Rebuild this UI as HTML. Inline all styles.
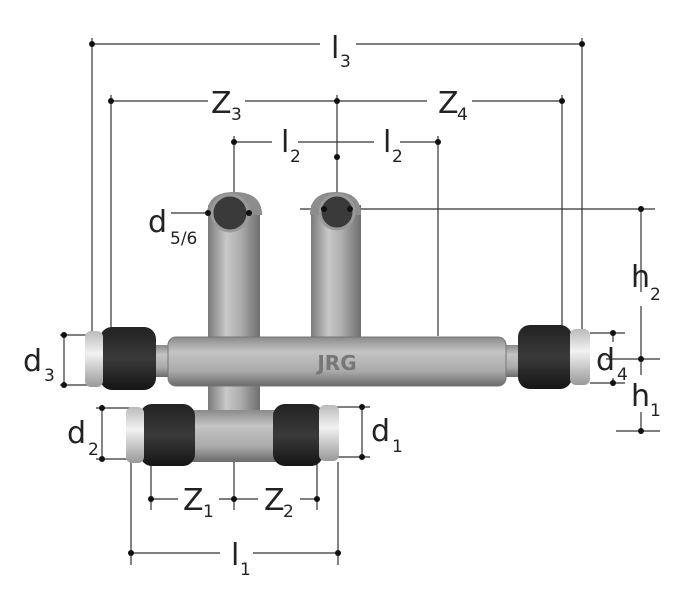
<!DOCTYPE html>
<html><head><meta charset="utf-8"><style>
html,body{margin:0;padding:0;background:#fff}
svg{display:block}
text{font-family:"DejaVu Sans","Liberation Sans",sans-serif;fill:#222}
</style></head><body>
<svg width="685" height="612" viewBox="0 0 685 612" xmlns="http://www.w3.org/2000/svg">
<defs>
<linearGradient id="metV" x1="0" y1="0" x2="1" y2="0">
<stop offset="0" stop-color="#7a7a7a"/><stop offset="0.35" stop-color="#c8c8c8"/><stop offset="0.6" stop-color="#b0b0b0"/><stop offset="1" stop-color="#6e6e6e"/></linearGradient>
<linearGradient id="metH" x1="0" y1="0" x2="0" y2="1">
<stop offset="0" stop-color="#8a8a8a"/><stop offset="0.3" stop-color="#c4c4c4"/><stop offset="0.7" stop-color="#aaaaaa"/><stop offset="1" stop-color="#6a6a6a"/></linearGradient>
<linearGradient id="nut" x1="0" y1="0" x2="0" y2="1">
<stop offset="0" stop-color="#222"/><stop offset="0.5" stop-color="#3a3a3a"/><stop offset="1" stop-color="#151515"/></linearGradient>
<linearGradient id="ring" x1="0" y1="0" x2="0" y2="1">
<stop offset="0" stop-color="#bbb"/><stop offset="0.4" stop-color="#f2f2f2"/><stop offset="1" stop-color="#999"/></linearGradient>
</defs>
<g stroke="#333" stroke-width="1.2" fill="none">
<!-- top dims -->
<line x1="92" y1="44" x2="320" y2="44"/><line x1="356" y1="44" x2="582" y2="44"/>
<line x1="111" y1="101" x2="208" y2="101"/><line x1="245" y1="101" x2="427" y2="101"/><line x1="472" y1="101" x2="562" y2="101"/>
<line x1="234" y1="142" x2="272" y2="142"/><line x1="298" y1="142" x2="374" y2="142"/><line x1="400" y1="142" x2="438" y2="142"/>
<line x1="92" y1="38" x2="92" y2="332"/><line x1="582" y1="38" x2="582" y2="332"/>
<line x1="111" y1="95" x2="111" y2="332"/><line x1="562" y1="95" x2="562" y2="332"/>
<line x1="234" y1="136" x2="234" y2="194"/><line x1="438" y1="136" x2="438" y2="336"/>
<line x1="337" y1="95" x2="337" y2="194"/>
<!-- d5/6 -->
<line x1="171" y1="213" x2="262" y2="213"/><line x1="300" y1="209" x2="655" y2="209"/>
<!-- h -->
<line x1="641" y1="209" x2="641" y2="292"/><line x1="641" y1="306" x2="641" y2="375"/><line x1="641" y1="412" x2="641" y2="431"/>
<line x1="616" y1="431" x2="660" y2="431"/><line x1="606" y1="359" x2="660" y2="359"/>
<!-- d4 -->
<line x1="590" y1="333" x2="625" y2="333"/><line x1="590" y1="383" x2="625" y2="383"/><line x1="613" y1="333" x2="613" y2="342"/><line x1="613" y1="378" x2="613" y2="383"/>
<!-- d3 -->
<line x1="60" y1="335" x2="90" y2="335"/><line x1="60" y1="385" x2="90" y2="385"/><line x1="64" y1="335" x2="64" y2="385"/>
<!-- d2 -->
<line x1="96" y1="408" x2="132" y2="408"/><line x1="96" y1="459" x2="132" y2="459"/><line x1="102" y1="408" x2="102" y2="459"/>
<!-- d1 -->
<line x1="336" y1="407" x2="370" y2="407"/><line x1="336" y1="457" x2="370" y2="457"/><line x1="362" y1="407" x2="362" y2="457"/>
<!-- bottom -->
<line x1="131" y1="462" x2="131" y2="565"/><line x1="338" y1="462" x2="338" y2="565"/>
<line x1="151" y1="462" x2="151" y2="510"/><line x1="317" y1="462" x2="317" y2="510"/><line x1="234" y1="462" x2="234" y2="510"/>
<line x1="151" y1="499" x2="178" y2="499"/><line x1="219" y1="499" x2="258" y2="499"/><line x1="300" y1="499" x2="317" y2="499"/>
<line x1="131" y1="553" x2="220" y2="553"/><line x1="253" y1="553" x2="338" y2="553"/>
</g>
<!-- fitting -->
<!-- left upright -->
<rect x="208" y="205" width="52" height="225" fill="url(#metV)"/>
<path d="M207 215 Q207 192 234 192 Q262 192 262 215 Z" fill="#8d8d8d"/>
<circle cx="230" cy="213" r="18" fill="#3a3a3a" stroke="#9a9a9a" stroke-width="3"/>
<!-- right upright -->
<rect x="311" y="205" width="50" height="135" fill="url(#metV)"/>
<path d="M310 215 Q310 192 336 192 Q361 192 361 215 Z" fill="#8d8d8d"/>
<circle cx="337" cy="212" r="17" fill="#3a3a3a" stroke="#9a9a9a" stroke-width="3"/>
<!-- main bar -->
<rect x="150" y="345" width="380" height="32" fill="url(#metH)"/>
<rect x="168" y="337" width="338" height="49" rx="8" fill="url(#metH)" stroke="#777"/>
<text x="337" y="370" font-size="20" font-weight="bold" text-anchor="middle" style="fill:#777">JRG</text>
<rect x="100" y="327" width="56" height="63" rx="12" fill="url(#nut)"/>
<rect x="85" y="331" width="18" height="56" rx="6" fill="url(#ring)"/>
<rect x="518" y="325" width="54" height="64" rx="12" fill="url(#nut)"/>
<rect x="570" y="329" width="20" height="56" rx="6" fill="url(#ring)"/>
<!-- lower T -->
<rect x="190" y="410" width="90" height="52" fill="url(#metH)"/>
<rect x="140" y="404" width="55" height="62" rx="12" fill="url(#nut)"/>
<rect x="126" y="407" width="18" height="56" rx="6" fill="url(#ring)"/>
<rect x="273" y="404" width="50" height="62" rx="12" fill="url(#nut)"/>
<rect x="319" y="405" width="20" height="56" rx="6" fill="url(#ring)"/>
<!-- dots -->
<g fill="#111">
<circle cx="92" cy="44" r="3"/><circle cx="582" cy="44" r="3"/>
<circle cx="111" cy="101" r="3"/><circle cx="337" cy="101" r="3"/><circle cx="562" cy="101" r="3"/>
<circle cx="234" cy="142" r="3"/><circle cx="438" cy="142" r="3"/><circle cx="337" cy="157" r="3"/>
<circle cx="208" cy="213" r="3"/><circle cx="249" cy="213" r="3"/><circle cx="324" cy="209" r="3"/><circle cx="350" cy="209" r="3"/>
<circle cx="641" cy="209" r="3"/><circle cx="641" cy="359" r="3"/><circle cx="641" cy="431" r="3"/>
<circle cx="613" cy="333" r="3"/><circle cx="613" cy="383" r="3"/>
<circle cx="64" cy="335" r="3"/><circle cx="64" cy="385" r="3"/>
<circle cx="102" cy="408" r="3"/><circle cx="102" cy="459" r="3"/>
<circle cx="362" cy="407" r="3"/><circle cx="362" cy="457" r="3"/>
<circle cx="151" cy="499" r="3"/><circle cx="234" cy="499" r="3"/><circle cx="317" cy="499" r="3"/>
<circle cx="131" cy="553" r="3"/><circle cx="338" cy="553" r="3"/>
</g>
<!-- labels -->
<g font-size="30">
<text x="331" y="58">l</text><text x="340" y="67" font-size="17">3</text>
<text x="211" y="113">Z</text><text x="231" y="120" font-size="17">3</text>
<text x="438" y="113">Z</text><text x="457" y="120" font-size="17">4</text>
<text x="281" y="152">l</text><text x="290" y="162" font-size="17">2</text>
<text x="383" y="152">l</text><text x="392" y="162" font-size="17">2</text>
<text x="148" y="232">d</text><text x="170" y="244" font-size="17">5/6</text>
<text x="631" y="287">h</text><text x="650" y="300" font-size="17">2</text>
<text x="631" y="406">h</text><text x="650" y="416" font-size="17">1</text>
<text x="596" y="370">d</text><text x="617" y="380" font-size="17">4</text>
<text x="23" y="371">d</text><text x="44" y="381" font-size="17">3</text>
<text x="67" y="443">d</text><text x="88" y="455" font-size="17">2</text>
<text x="371" y="441">d</text><text x="392" y="452" font-size="17">1</text>
<text x="183" y="510">Z</text><text x="203" y="517" font-size="17">1</text>
<text x="264" y="510">Z</text><text x="283" y="517" font-size="17">2</text>
<text x="231" y="565">l</text><text x="240" y="575" font-size="17">1</text>
</g>
</svg>
</body></html>
